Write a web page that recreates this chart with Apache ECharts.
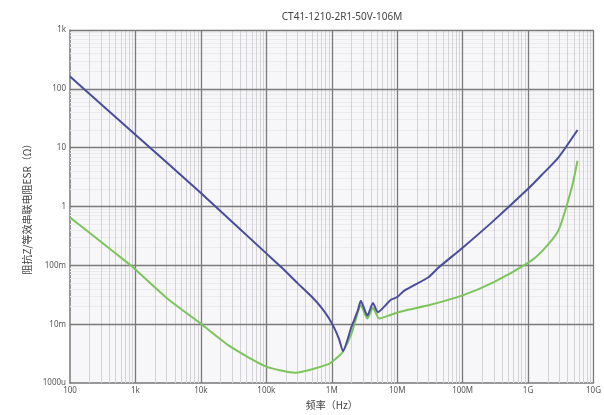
<!DOCTYPE html>
<html>
<head>
<meta charset="utf-8">
<script src="https://cdn.jsdelivr.net/npm/echarts@6/dist/echarts.min.js"></script>
<style>
  html, body { margin: 0; padding: 0; background: #ffffff; }
  #chart { width: 604px; height: 415px; }
</style>
</head>
<body>
<div id="chart"></div>
<script>
// Frequency sweep of the MLCC: impedance |Z| and ESR, both in ohms
const titleText = 'CT41-1210-2R1-50V-106M';

const xTickLabels = ['100', '1k', '10k', '100k', '1M', '10M', '100M', '1G', '10G'];
const yTickLabels = ['1000u', '10m', '100m', '1', '10', '100', '1k'];

// [frequency Hz, ohms]
const impedance = [
  [100, 162], [1000, 16.6], [10000, 1.7], [1e5, 0.16], [1.7e5, 0.093],
  [3e5, 0.05], [5e5, 0.029], [7e5, 0.019], [8.9e5, 0.013], [1.1e6, 0.0085],
  [1.3e6, 0.0055], [1.48e6, 0.0035], [2.0e6, 0.009], [2.5e6, 0.017],
  [2.78e6, 0.025], [3.5e6, 0.014], [4.26e6, 0.023], [5.06e6, 0.016],
  [8e6, 0.026], [1e7, 0.029], [1.27e7, 0.037], [3e7, 0.063], [4.2e7, 0.09],
  [1e8, 0.2], [2.9e8, 0.56], [1e9, 2.0], [1.6e9, 3.4], [2.9e9, 6.8], [5.7e9, 20]
];

const esr = [
  [100, 0.65], [300, 0.25], [850, 0.1], [1000, 0.085], [3000, 0.028],
  [1e4, 0.0102], [2.8e4, 0.0042], [1e5, 0.0019], [2.8e5, 0.0015],
  [8.9e5, 0.0021], [1.2e6, 0.0027], [1.48e6, 0.0034], [2e6, 0.0069],
  [2.5e6, 0.016], [2.78e6, 0.021], [3.5e6, 0.0125], [4.26e6, 0.019],
  [5.3e6, 0.0125], [8e6, 0.0145], [1.27e7, 0.017], [3e7, 0.021],
  [1e8, 0.031], [2.9e8, 0.051], [1e9, 0.11], [1.6e9, 0.17], [2.9e9, 0.39],
  [4.6e9, 2.0], [5.7e9, 6]
];

// in-plot curve names, placed in data coordinates
const impedanceLabel = { text: '阻抗', at: [2100, 31] };
const esrLabel = { text: 'ESR', at: [2500, 0.15] };

// grid positions: 2..9 within each decade, plus the decades themselves
function minorValues(lo, hi) {
  const out = [];
  for (let e = lo; e < hi; e++) {
    for (let m = 2; m <= 9; m++) out.push(m * Math.pow(10, e));
  }
  return out;
}
function decadeValues(lo, hi) {
  const out = [];
  for (let e = lo; e <= hi; e++) out.push(Math.pow(10, e));
  return out;
}
const xMinor = minorValues(2, 10);
const yMinor = minorValues(-3, 3);
const xMajor = decadeValues(3, 10);
const yMajor = decadeValues(-2, 3);

const minorX = { color: '#d6d3d8', width: 1, type: 'solid' };
const minorY = { color: '#ebebee', width: 1, type: 'solid' };
const major = { color: '#7a7a7a', width: 1.3, type: 'solid' };

const chart = echarts.init(document.getElementById('chart'), null, { renderer: 'canvas' });

const labelStyle = { color: '#555', fontSize: 8, fontFamily: 'Noto Sans' };

chart.setOption({
  animation: false,
  backgroundColor: '#ffffff',
  title: {
    text: titleText,
    left: 337,
    top: 7,
    textAlign: 'center',
    textStyle: { color: '#444', fontSize: 10, fontWeight: 'normal', fontFamily: 'Noto Sans' }
  },
  grid: {
    left: 70, top: 30, right: 1, bottom: 27,
    show: true, backgroundColor: '#f7f7f9', borderWidth: 0
  },
  xAxis: {
    type: 'log', logBase: 10, min: 100, max: 1e10, splitNumber: 8,
    name: '频率（Hz）', nameLocation: 'middle', nameGap: 14,
    nameTextStyle: { color: '#444', fontSize: 10, fontFamily: 'Noto Sans CJK SC' },
    axisLine: { show: true, lineStyle: { color: '#777', width: 1.5 } },
    axisTick: { show: false },
    axisLabel: {
      ...labelStyle, margin: 4,
      formatter: v => xTickLabels[Math.round(Math.log10(v)) - 2] || ''
    },
    splitLine: { show: false }
  },
  yAxis: {
    type: 'log', logBase: 10, min: 1e-3, max: 1e3, splitNumber: 6,
    name: '阻抗Z/等效串联电阻ESR（Ω）', nameLocation: 'middle', nameGap: 34,
    nameTextStyle: { color: '#444', fontSize: 10, fontFamily: 'Noto Sans CJK SC' },
    axisLine: { show: true, lineStyle: { color: '#777', width: 1.5 } },
    axisTick: { show: false },
    axisLabel: {
      ...labelStyle, margin: 4,
      formatter: v => yTickLabels[Math.round(Math.log10(v)) + 3] || ''
    },
    splitLine: { show: false }
  },
  series: [
    {
      // grid lines: faint minors first, decade lines on top
      type: 'line', data: [], silent: true, z: 0,
      markLine: {
        silent: true, symbol: ['none', 'none'], label: { show: false },
        animation: false,
        data: [
          ...yMinor.map(v => ({ yAxis: v, lineStyle: minorY })),
          ...xMinor.map(v => ({ xAxis: v, lineStyle: minorX })),
          ...yMajor.map(v => ({ yAxis: v, lineStyle: major })),
          ...xMajor.map(v => ({ xAxis: v, lineStyle: major }))
        ]
      }
    },
    {
      name: '阻抗', type: 'line', data: impedance, showSymbol: false, smooth: 0.2,
      zlevel: 1, z: 4,
      lineStyle: { color: '#4a4c9c', width: 2, type: 'solid' },
      markPoint: {
        symbol: 'none', silent: true,
        label: { show: true, formatter: impedanceLabel.text, color: '#444', fontSize: 10, fontFamily: 'Noto Sans CJK SC' },
        data: [{ coord: impedanceLabel.at }]
      }
    },
    {
      name: 'ESR', type: 'line', data: esr, showSymbol: false, smooth: 0.2,
      zlevel: 1, z: 3,
      lineStyle: { color: '#7cc45c', width: 2, type: 'solid' },
      markPoint: {
        symbol: 'none', silent: true,
        label: { show: true, formatter: esrLabel.text, color: '#444', fontSize: 10, fontFamily: 'Noto Sans' },
        data: [{ coord: esrLabel.at }]
      }
    }
  ]
});
</script>
</body>
</html>
